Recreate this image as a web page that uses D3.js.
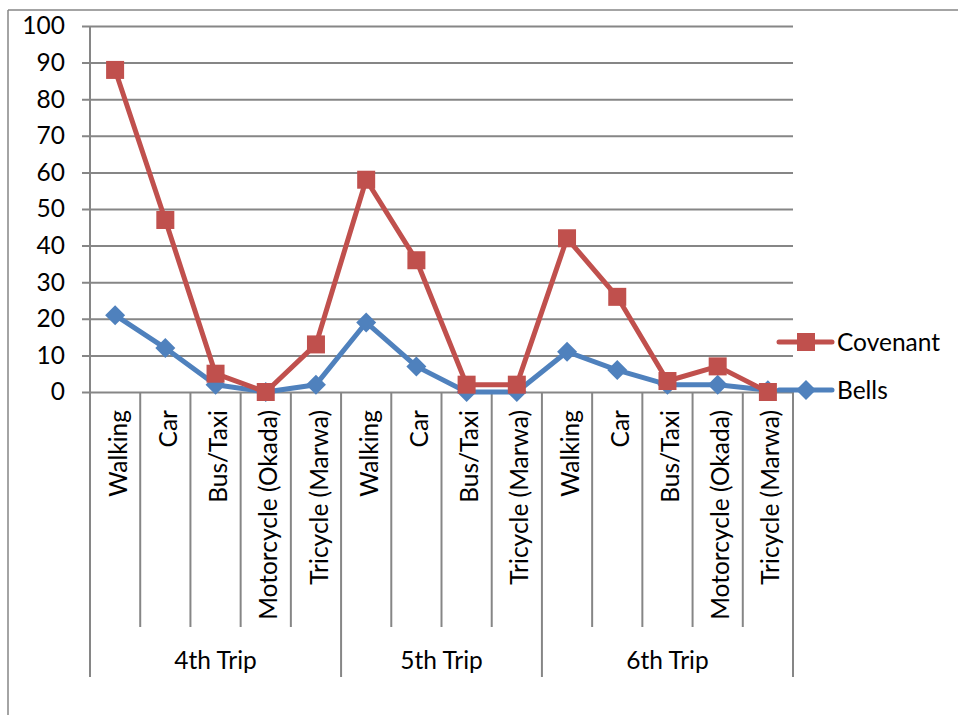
<!DOCTYPE html>
<html>
<head>
<meta charset="utf-8">
<script src="https://cdnjs.cloudflare.com/ajax/libs/d3/7.8.5/d3.min.js"></script>
<style>
	body { margin: 0; background: #fff; }
	text { font-family: Lato, "Noto Sans", sans-serif; fill: #000; }
</style>
</head>
<body>
<div id="canvas"></div>
<script>
var width = 958,
	height = 715;

var modes = ["Walking", "Car", "Bus/Taxi", "Motorcycle (Okada)", "Tricycle (Marwa)",
	"Walking", "Car", "Bus/Taxi", "Tricycle (Marwa)",
	"Walking", "Car", "Bus/Taxi", "Motorcycle (Okada)", "Tricycle (Marwa)"];
var trips = ["4th Trip", "5th Trip", "6th Trip"];
var tripSizes = [5, 4, 5];
var covenant = [88, 47, 5, 0, 13, 58, 36, 2, 2, 42, 26, 3, 7, 0];
var bells = [21, 12, 2, 0, 2, 19, 7, 0, 0, 11, 6, 2, 2, 0.5];
var yTicks = [0, 10, 20, 30, 40, 50, 60, 70, 80, 90, 100];

var plotLeft = 90, plotRight = 793, plotTop = 26, plotBottom = 392;
var gridColor = "#868686";
var fontSize = "24.5px";

var svg = d3.select("#canvas").append("svg")
	.attr("width", width)
	.attr("height", height)
	.style("background-color", "#fff")

// outer chart frame (only top and left edges visible)
svg.append("line").attr("x1", 8).attr("x2", width).attr("y1", 10).attr("y2", 10)
	.attr("stroke", gridColor).attr("stroke-width", 1.5)
svg.append("line").attr("x1", 8).attr("x2", 8).attr("y1", 10).attr("y2", height)
	.attr("stroke", gridColor).attr("stroke-width", 1.5)

var x = d3.scaleBand()
	.domain(d3.range(modes.length))
	.range([plotLeft, plotRight])

var y = d3.scaleLinear()
	.domain([0, 100])
	.range([plotBottom, plotTop])

// gridlines + y axis
var yAxis = d3.axisLeft(y)
	.tickValues(yTicks)
	.tickSize(-(plotRight - plotLeft + 8))
	.tickPadding(16)

var gy = svg.append("g")
	.attr("transform", "translate(" + (plotLeft - 8) + ",0)")
	.call(yAxis)
gy.select(".domain").remove()
gy.selectAll(".tick line")
	.attr("stroke", gridColor)
	.attr("stroke-width", 2)
gy.selectAll(".tick text")
	.attr("x", -17)
	.style("font-size", fontSize)
	.style("font-family", "Lato, sans-serif")

svg.append("line")
	.attr("x1", plotLeft).attr("x2", plotLeft)
	.attr("y1", plotTop).attr("y2", plotBottom)
	.attr("stroke", gridColor).attr("stroke-width", 2)

// category dividers
var bounds = [];
var start = 0;
for (var i = 0; i < tripSizes.length; i++) {
	bounds.push(start);
	start += tripSizes[i];
}
bounds.push(start);

svg.selectAll(".catdiv")
	.data(d3.range(modes.length + 1))
	.enter()
	.append("line")
	.attr("x1", function(d){ return plotLeft + d * x.step(); })
	.attr("x2", function(d){ return plotLeft + d * x.step(); })
	.attr("y1", plotBottom)
	.attr("y2", function(d){ return bounds.indexOf(d) >= 0 ? 677 : 627; })
	.attr("stroke", gridColor)
	.attr("stroke-width", 2)

svg.selectAll(".mode")
	.data(modes)
	.enter()
	.append("text")
	.attr("transform", function(d, i){
		return "translate(" + (x(i) + x.bandwidth() / 2 + 3) + ",410) rotate(-90)";
	})
	.attr("text-anchor", "end")
	.attr("dy", "0.35em")
	.style("font-size", fontSize)
	.text(function(d){ return d; })

svg.selectAll(".trip")
	.data(trips)
	.enter()
	.append("text")
	.attr("x", function(d, i){
		return plotLeft + (bounds[i] + bounds[i + 1]) / 2 * x.step();
	})
	.attr("y", 669)
	.attr("text-anchor", "middle")
	.style("font-size", fontSize)
	.text(function(d){ return d; })

// series
var series = [
	{name: "Covenant", values: covenant, color: "#C0504D", shape: "square", ly: 342},
	{name: "Bells", values: bells, color: "#4F81BD", shape: "diamond", ly: 390}
];

var line = d3.line()
	.x(function(d, i){ return x(i) + x.bandwidth() / 2; })
	.y(function(d){ return y(d); })

function marker(g, shape, color, cx, cy) {
	if (shape === "square") {
		g.append("rect")
			.attr("x", cx - 9).attr("y", cy - 9)
			.attr("width", 18).attr("height", 18)
			.attr("fill", color)
	} else {
		g.append("path")
			.attr("d", "M" + cx + "," + (cy - 10) + "L" + (cx + 10) + "," + cy +
				"L" + cx + "," + (cy + 10) + "L" + (cx - 10) + "," + cy + "Z")
			.attr("fill", color)
	}
}

// draw Bells first so Covenant sits on top
series.slice().reverse().forEach(function(s){
	var g = svg.append("g");
	g.append("path")
		.datum(s.values)
		.attr("d", line)
		.attr("fill", "none")
		.attr("stroke", s.color)
		.attr("stroke-width", 5)
		.attr("stroke-linejoin", "round")
	s.values.forEach(function(v, i){
		marker(g, s.shape, s.color, x(i) + x.bandwidth() / 2, y(v));
	});

	// legend
	g.append("line")
		.attr("x1", 779).attr("x2", 832)
		.attr("y1", s.ly).attr("y2", s.ly)
		.attr("stroke", s.color)
		.attr("stroke-width", 5)
		.attr("stroke-linecap", "round")
	marker(g, s.shape, s.color, 806, s.ly);
	g.append("text")
		.attr("x", 837)
		.attr("y", s.ly)
		.attr("dy", "0.35em")
		.style("font-size", fontSize)
		.text(s.name)
});
</script>
</body>
</html>
